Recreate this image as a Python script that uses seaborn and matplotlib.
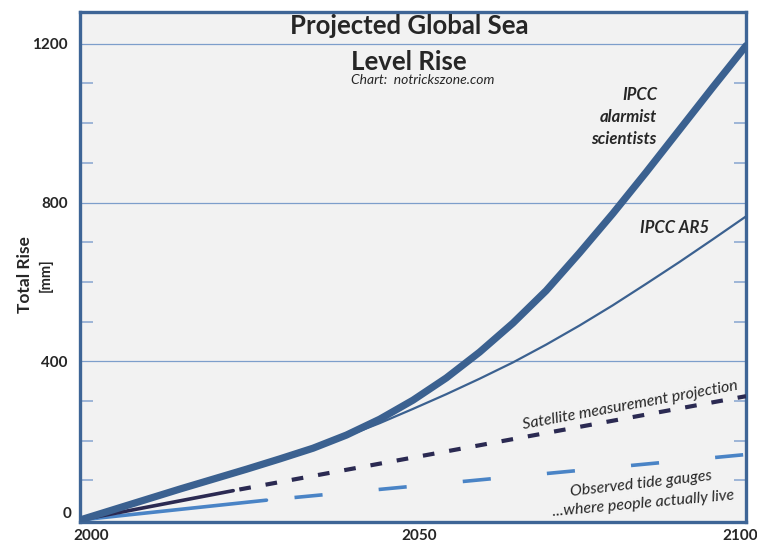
import matplotlib
matplotlib.use("Agg")
import matplotlib.pyplot as plt
import matplotlib.transforms as mtransforms
import seaborn as sns
import pandas as pd

# ---- data ----
years5 = [2000, 2005, 2010, 2015, 2020, 2025, 2030, 2035, 2040, 2045, 2050,
          2055, 2060, 2065, 2070, 2075, 2080, 2085, 2090, 2095, 2100]
ipcc_alarmist = [0, 26, 52, 78, 103, 128, 154, 181, 214, 254, 302,
                 358, 423, 496, 578, 673, 772, 876, 983, 1090, 1195]
ipcc_ar5 = [0, 26, 52, 78, 103, 128, 154, 181, 211, 244, 280,
            317, 356, 397, 442, 490, 541, 595, 650, 707, 765]

sat_obs_years = [2000, 2023]
sat_obs = [0, 74]
sat_proj_years = [2023, 2100]
sat_proj = [74, 312]

tide_obs_years = [2000, 2028]
tide_obs = [0, 50]
tide_proj_years = [2028, 2100]
tide_proj = [50, 165]

y_ticks = [0, 400, 800, 1200]
x_ticks = [2000, 2050, 2100]

title_line1 = "Projected Global Sea"
title_line2 = "Level Rise"
subtitle = "Chart:  notrickszone.com"

# ---- styling ----
sns.set_theme(style="white")
plt.rcParams['font.family'] = ['Lato', 'DejaVu Sans']

C_MAIN = "#3b6190"
C_SAT = "#2b2a52"
C_TIDE = "#4a84c6"
C_FRAME = "#3e6596"
C_GRID = "#7d9ecb"

W, H = 757, 546
fig = plt.figure(figsize=(W / 100, H / 100), dpi=100)
ax = fig.add_axes([80 / W, 24 / H, 666 / W, 510 / H])
ax.set_facecolor("#f2f2f2")
fig.patch.set_facecolor("white")

ax.set_xlim(2000, 2100)
ax.set_ylim(-5, 1280)

# gridlines at major ticks
for v in y_ticks[1:]:
    ax.axhline(v, color=C_GRID, lw=0.9, zorder=1)

df_main = pd.DataFrame({"year": years5, "alarm": ipcc_alarmist, "ar5": ipcc_ar5})

sns.lineplot(data=df_main, x="year", y="ar5", ax=ax, color=C_MAIN, lw=1.6,
             estimator=None, zorder=3)
ax.lines[-1].set_solid_joinstyle("round")
sns.lineplot(data=df_main, x="year", y="alarm", ax=ax, color=C_MAIN, lw=5.2,
             estimator=None, zorder=4)
ax.lines[-1].set_solid_joinstyle("round")

sns.lineplot(x=tide_obs_years, y=tide_obs, ax=ax, color=C_TIDE, lw=2.6,
             estimator=None, zorder=3)
sns.lineplot(x=tide_proj_years, y=tide_proj, ax=ax, color=C_TIDE, lw=2.6,
             estimator=None, zorder=3)
ax.lines[-1].set_dashes((0, 7.8, 7.8, 7.8))
ax.lines[-1].set_dash_capstyle("butt")

sns.lineplot(x=sat_obs_years, y=sat_obs, ax=ax, color=C_SAT, lw=2.6,
             estimator=None, zorder=3)
sns.lineplot(x=sat_proj_years, y=sat_proj, ax=ax, color=C_SAT, lw=3.0,
             estimator=None, zorder=3)
ax.lines[-1].set_dashes((0, 1.5, 2.8, 2.1))
ax.lines[-1].set_dash_capstyle("butt")

# spines
for s in ax.spines.values():
    s.set_visible(True)
    s.set_color(C_FRAME)
    s.set_linewidth(2.4)

# ticks
ax.set_yticks(y_ticks)
ax.set_yticklabels([str(v) for v in y_ticks], fontweight="bold", fontsize=11)
ax.set_xticks(x_ticks)
ax.set_xticklabels([str(v) for v in x_ticks], fontweight="bold", fontsize=11)
ax.tick_params(axis="y", which="major", length=0, pad=9)
ax.tick_params(axis="x", which="major", length=0, pad=5)
ax.set_yticks([v for v in range(100, 1300, 100) if v % 400 != 0], minor=True)
ax.tick_params(axis="y", which="minor", direction="in", length=9, width=1.1,
               color="#86a5d0", left=True, right=True)

# small horizontal nudges of x tick labels (pixels)
for lbl, dx in zip(ax.get_xticklabels(), [11, 6, -6]):
    lbl.set_transform(lbl.get_transform() +
                      mtransforms.ScaledTranslation(dx / 100, 0, fig.dpi_scale_trans))
# nudge "0" label up slightly as in reference
ylbls = ax.get_yticklabels()
ylbls[0].set_transform(ylbls[0].get_transform() +
                       mtransforms.ScaledTranslation(4 / 100, 8 / 100, fig.dpi_scale_trans))

ax.set_xlabel("")
ax.set_ylabel("")

# axis title
fig.text(25 / W, 1 - 275 / H, "Total Rise", rotation=90, fontsize=12.5,
         fontweight="bold", ha="center", va="center")
fig.text(46 / W, 1 - 275 / H, "[mm]", rotation=90, fontsize=10.5,
         fontweight="bold", ha="center", va="center")

# chart title
fig.text(409 / W, 1 - 34 / H, title_line1, fontsize=18.5,
         fontweight="bold", ha="center", va="baseline")
fig.text(409 / W, 1 - 70 / H, title_line2, fontsize=18.5,
         fontweight="bold", ha="center", va="baseline")
fig.text(423 / W, 1 - 84 / H, subtitle, fontsize=10, style="italic",
         ha="center", va="baseline")

# annotations
fig.text(657 / W, 1 - 95 / H, "IPCC", fontsize=12, fontweight="bold",
         style="italic", ha="right", va="center")
fig.text(657 / W, 1 - 117 / H, "alarmist", fontsize=12, fontweight="bold",
         style="italic", ha="right", va="center")
fig.text(657 / W, 1 - 139 / H, "scientists", fontsize=12, fontweight="bold",
         style="italic", ha="right", va="center")
fig.text(675 / W, 1 - 228 / H, "IPCC AR5", fontsize=12, fontweight="bold",
         style="italic", ha="center", va="center")

fig.text(630 / W, 1 - 405 / H, "Satellite measurement projection",
         fontsize=11.5, style="italic", rotation=10.4, ha="center", va="center",
         rotation_mode="anchor")
fig.text(641 / W, 1 - 484 / H, "Observed tide gauges",
         fontsize=11.5, style="italic", rotation=6.5, ha="center", va="center",
         rotation_mode="anchor")
fig.text(643 / W, 1 - 504 / H, "...where people actually live",
         fontsize=11.5, style="italic", rotation=5.2, ha="center", va="center",
         rotation_mode="anchor")

fig.savefig("out.png", dpi=100)
